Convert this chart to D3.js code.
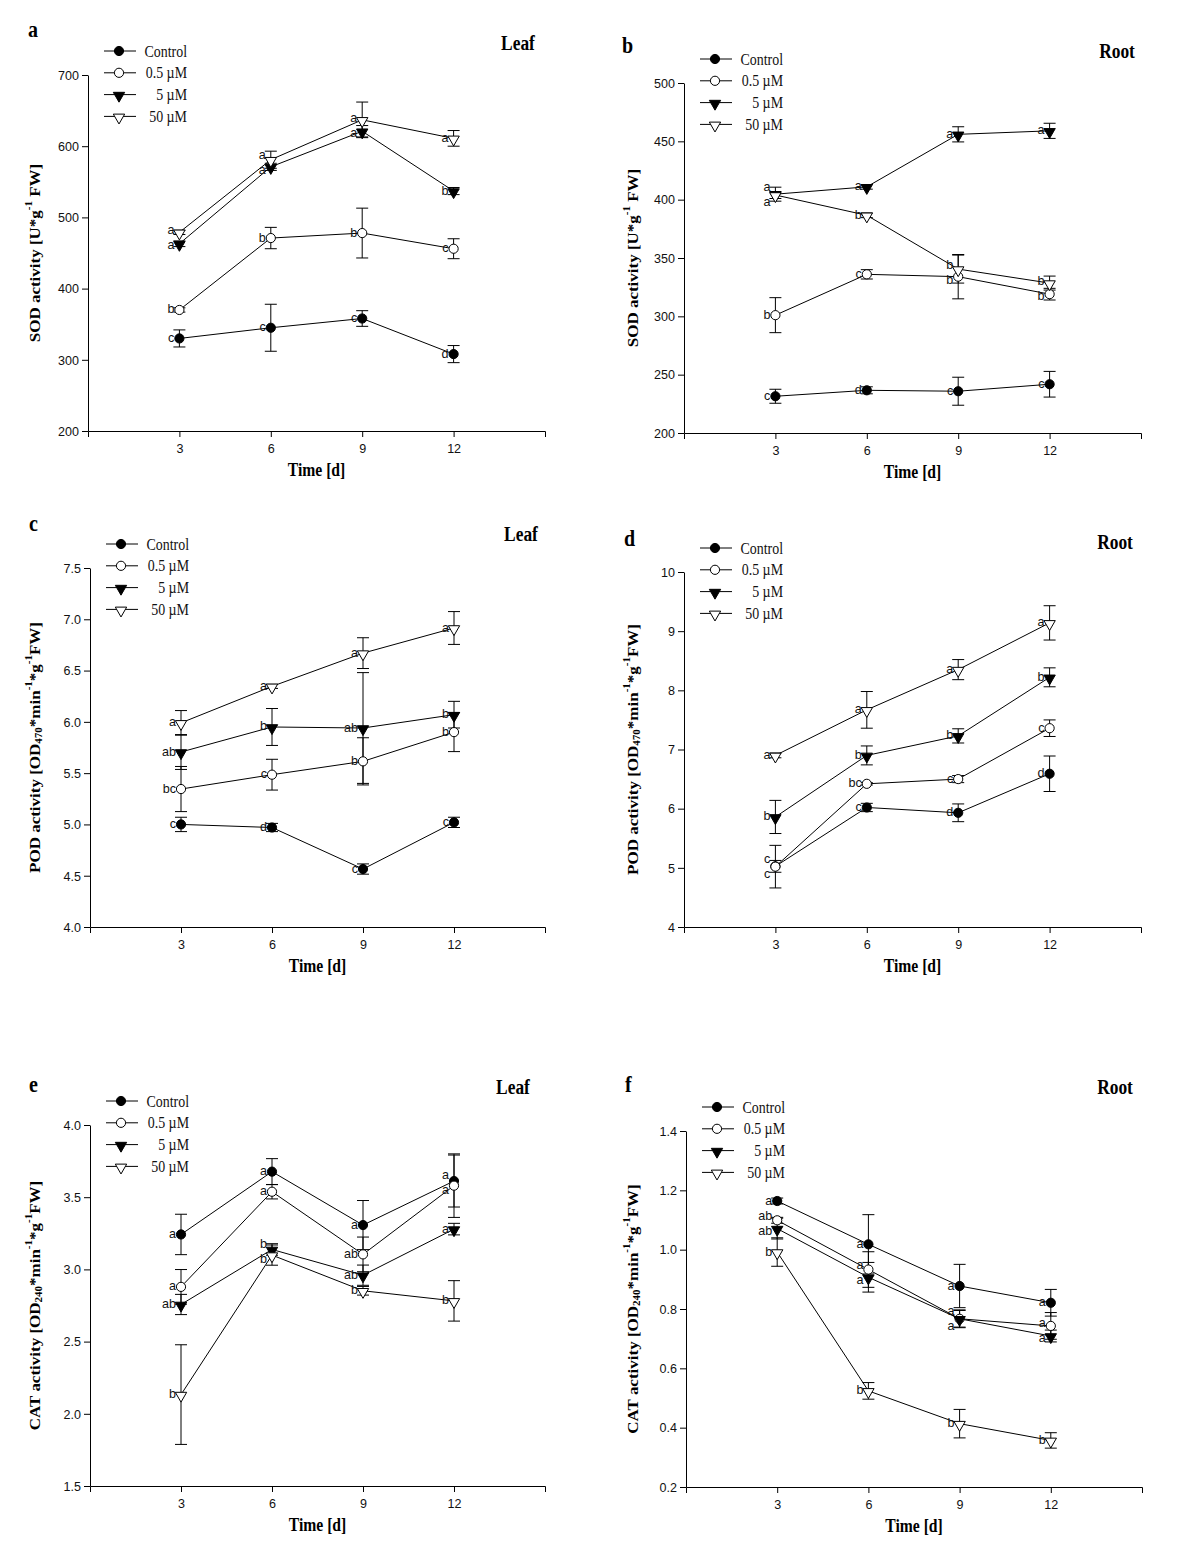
<!DOCTYPE html>
<html><head><meta charset="utf-8">
<script src="https://cdn.jsdelivr.net/npm/d3@7"></script>
<style>
html,body{margin:0;padding:0;background:#fff;}
svg{display:block;}
</style></head>
<body>
<script>
// ---------------- DATA ----------------
const days = [3, 6, 9, 12];
const seriesNames = ["Control", "0.5 \u00b5M", "5 \u00b5M", "50 \u00b5M"];

// SOD – leaf (a)
const sodLeafMean = [[330,345,358,308],[370,471,478,456],[463,571,621,537],[479,581,637,611]];
const sodLeafErr  = [[12,33,11,12],[3,15,35,14],[4,5,8,5],[3,12,25,11]];
const sodLeafSig  = [["c","c","c","d"],["b","b","b","c"],["a","a","a","b"],["a","a","a","a"]];
// SOD – root (b)
const sodRootMean = [[231.5,236.6,235.8,241.8],[301,336,334,319],[404.7,411,456,459],[404,386.6,340.5,328.5]];
const sodRootErr  = [[6,3,12,11],[15,4,19,5],[6,2,6.5,6.5],[3,2,12,6]];
const sodRootSig  = [["c","d","c","c"],["b","c","b","b"],["a","a","a","a"],["a","b","b","b"]];
// POD – leaf (c)
const podLeafMean = [[5.00,4.97,4.565,5.02],[5.345,5.485,5.615,5.90],[5.706,5.95,5.94,6.07],[5.99,6.346,6.67,6.915]];
const podLeafErr  = [[0.07,0.04,0.05,0.05],[0.22,0.15,0.23,0.19],[0.17,0.18,0.54,0.13],[0.12,0.02,0.15,0.16]];
const podLeafSig  = [["c","d","c","c"],["bc","c","b","b"],["ab","b","ab","b"],["a","a","a","a"]];
// POD – root (d)
const podRootMean = [[5.025,6.02,5.93,6.59],[5.02,6.42,6.50,7.36],[5.86,6.90,7.23,8.22],[6.90,7.67,8.35,9.14]];
const podRootErr  = [[0.1,0.07,0.15,0.3],[0.36,0.02,0.06,0.14],[0.28,0.16,0.12,0.16],[0.04,0.31,0.17,0.29]];
const podRootSig  = [["c","c","d","d"],["c","bc","c","c"],["b","b","b","b"],["a","a","a","a"]];
// CAT – leaf (e)
const catLeafMean = [[3.242,3.677,3.307,3.612],[2.879,3.538,3.104,3.58],[2.757,3.138,2.96,3.279],[2.133,3.099,2.852,2.782]];
const catLeafErr  = [[0.14,0.09,0.17,0.18],[0.12,0.05,0.12,0.22],[0.07,0.04,0.07,0.04],[0.345,0.07,0.03,0.14]];
const catLeafSig  = [["a","a","a","a"],["a","a","ab","a"],["ab","b","ab","a"],["b","b","b","b"]];
// CAT – root (f)
const catRootMean = [[1.164,1.018,0.8775,0.821],[1.099,0.933,0.767,0.743],[1.071,0.907,0.767,0.709],[0.992,0.524,0.4135,0.357]];
const catRootErr  = [[0.01,0.1,0.073,0.045],[0.01,0.06,0.03,0.045],[0.035,0.05,0.028,0.02],[0.048,0.028,0.048,0.026]];
const catRootSig  = [["a","a","a","a"],["ab","a","a","a"],["ab","a","a","a"],["b","b","b","b"]];

const panelLetters = ["a","b","c","d","e","f"];
const tissues = ["Leaf","Root","Leaf","Root","Leaf","Root"];
const sodTicks = [200,300,400,500,600,700];
const sodRootTicks = [200,250,300,350,400,450,500];
const podLeafTicks = [4.0,4.5,5.0,5.5,6.0,6.5,7.0,7.5];
const podRootTicks = [4,5,6,7,8,9,10];
const catLeafTicks = [1.5,2.0,2.5,3.0,3.5,4.0];
const catRootTicks = [0.2,0.4,0.6,0.8,1.0,1.2,1.4];
const xLabel = "Time [d]";

// y-axis titles as segments: [text, kind] kind: n normal, sup, sub
const sodTitle = [["SOD activity [U*g","n"],["-1","sup"],[" FW]","n"]];
const podTitle = [["POD activity [OD","n"],["470","sub"],["*min","n"],["-1","sup"],["*g","n"],["-1","sup"],["FW]","n"]];
const catTitle = [["CAT activity [OD","n"],["240","sub"],["*min","n"],["-1","sup"],["*g","n"],["-1","sup"],["FW]","n"]];

// ---------------- LAYOUT ----------------
const panels = [
  {mean: sodLeafMean, err: sodLeafErr, sig: sodLeafSig, ticks: sodTicks, fmt: d3.format("d"), title: sodTitle,
   x0: 88, x1: 545, yTop: 75, yBot: 431, letter: [28, 37], tissue: [518, 50], ylab: 36},
  {mean: sodRootMean, err: sodRootErr, sig: sodRootSig, ticks: sodRootTicks, fmt: d3.format("d"), title: sodTitle,
   x0: 684, x1: 1141, yTop: 83, yBot: 433, letter: [622, 53], tissue: [1117, 58], ylab: 634},
  {mean: podLeafMean, err: podLeafErr, sig: podLeafSig, ticks: podLeafTicks, fmt: d3.format(".1f"), title: podTitle,
   x0: 90, x1: 545, yTop: 568, yBot: 927, letter: [29, 531], tissue: [521, 541], ylab: 36},
  {mean: podRootMean, err: podRootErr, sig: podRootSig, ticks: podRootTicks, fmt: d3.format("d"), title: podTitle,
   x0: 684, x1: 1141, yTop: 572, yBot: 927, letter: [624, 546], tissue: [1115, 549], ylab: 634},
  {mean: catLeafMean, err: catLeafErr, sig: catLeafSig, ticks: catLeafTicks, fmt: d3.format(".1f"), title: catTitle,
   x0: 90, x1: 545, yTop: 1125, yBot: 1486, letter: [29, 1092], tissue: [513, 1094], ylab: 36},
  {mean: catRootMean, err: catRootErr, sig: catRootSig, ticks: catRootTicks, fmt: d3.format(".1f"), title: catTitle,
   x0: 686, x1: 1142, yTop: 1131, yBot: 1487, letter: [625, 1092], tissue: [1115, 1094], ylab: 634}
];

const W = 1200, H = 1564;
const SX = 0.87;   // horizontal squeeze of the original figure's serif lettering
const SXS = 0.93;  // squeeze for sans lettering
const LAB_GAP = 15; // minimum vertical distance between significance letters
const svg = d3.select("body").append("svg").attr("width", W).attr("height", H)
  .attr("viewBox", `0 0 ${W} ${H}`);
svg.append("rect").attr("width", W).attr("height", H).attr("fill", "#fff");

const serif = "'Liberation Serif','Times New Roman',serif";
const sans = "'Liberation Sans',Arial,sans-serif";

function txt(g, x, y, s, sx = SX) {
  return g.append("text").attr("transform", `translate(${x},${y}) scale(${sx},1)`).text(s);
}

const triDown = d3.symbol(d3.symbolTriangle).size(56)();

function drawMarker(g, s, x, y) {
  if (s < 2) {
    g.append("circle").attr("cx", x).attr("cy", y).attr("r", 4.6)
      .attr("fill", s === 0 ? "#000" : "#fff").attr("stroke", "#000").attr("stroke-width", 1);
  } else {
    g.append("path").attr("d", triDown)
      .attr("transform", `translate(${x},${y + 1}) rotate(180)`)
      .attr("fill", s === 2 ? "#000" : "#fff").attr("stroke", "#000").attr("stroke-width", 1);
  }
}

function squeezeTicks(a) {
  a.selectAll("text").each(function () {
    const t = d3.select(this);
    const x = +(t.attr("x") || 0);
    t.attr("x", x / SXS).attr("transform", `scale(${SXS},1)`)
      .attr("font-family", sans).attr("font-size", 13.5).attr("fill", "#111");
  });
  a.selectAll("line,path").attr("stroke", "#000");
}

// cluster-based vertical de-overlap: labels sorted by desired y
function spread(labs, gap) {
  let groups = labs.map(l => ({items: [l], want: [l.yy]}));
  const place = gr => {
    const n = gr.items.length;
    const mean = d3.mean(gr.want);
    gr.top = mean - (n - 1) * gap / 2;
  };
  groups.forEach(place);
  let merged = true;
  while (merged) {
    merged = false;
    for (let k = 1; k < groups.length; k++) {
      const a = groups[k - 1], b = groups[k];
      const aBottom = a.top + (a.items.length - 1) * gap;
      if (b.top - aBottom < gap) {
        const m = {items: a.items.concat(b.items), want: a.want.concat(b.want)};
        place(m);
        groups.splice(k - 1, 2, m);
        merged = true;
        break;
      }
    }
  }
  groups.forEach(gr => gr.items.forEach((it, j) => { it.yy = gr.top + j * gap; }));
}

panels.forEach((p, pi) => {
  const x = d3.scaleLinear().domain([0, 15]).range([p.x0, p.x1]);
  const y = d3.scaleLinear().domain([p.ticks[0], p.ticks[p.ticks.length - 1]]).range([p.yBot, p.yTop]);
  const g = svg.append("g");

  // axes
  g.append("g").attr("transform", `translate(${p.x0},0)`)
    .call(d3.axisLeft(y).tickValues(p.ticks).tickFormat(p.fmt).tickSize(6).tickSizeOuter(0).tickPadding(3))
    .call(squeezeTicks);
  g.append("g").attr("transform", `translate(0,${p.yBot})`)
    .call(d3.axisBottom(x).tickValues(days).tickSize(6).tickSizeOuter(6).tickPadding(6))
    .call(squeezeTicks);

  // x title
  txt(g, (p.x0 + p.x1) / 2, p.yBot + 45, xLabel)
    .attr("text-anchor", "middle").attr("font-family", serif).attr("font-weight", "bold")
    .attr("font-size", 18);

  // y title
  const yt = g.append("text")
    .attr("transform", `translate(${p.ylab},${(p.yTop + p.yBot) / 2}) rotate(-90) scale(1,${SX})`)
    .attr("text-anchor", "middle").attr("font-family", serif).attr("font-weight", "bold")
    .attr("font-size", 17).attr("dominant-baseline", "middle");
  let shift = 0;
  p.title.forEach(([t, kind]) => {
    const target = kind === "sup" ? -7 : kind === "sub" ? 5 : 0;
    const ts = yt.append("tspan").attr("dy", target - shift).text(t);
    if (kind !== "n") ts.attr("font-size", 11);
    shift = target;
  });

  // panel letter and tissue
  txt(g, p.letter[0], p.letter[1], panelLetters[pi]).attr("font-family", serif)
    .attr("font-weight", "bold").attr("font-size", 23);
  txt(g, p.tissue[0], p.tissue[1], tissues[pi]).attr("text-anchor", "middle")
    .attr("font-family", serif).attr("font-weight", "bold").attr("font-size", 20);

  // legend
  const lg = g.append("g");
  seriesNames.forEach((name, s) => {
    const ly = p.yTop - 24 + s * 21.8;
    const lx = p.x0 + 16;
    lg.append("line").attr("x1", lx).attr("x2", lx + 32).attr("y1", ly).attr("y2", ly)
      .attr("stroke", "#000").attr("stroke-width", 1);
    drawMarker(lg, s, lx + 15, ly);
    txt(lg, p.x0 + 99, ly + 5.5, name).attr("text-anchor", "end")
      .attr("font-family", serif).attr("font-size", 16).attr("fill", "#111");
  });

  // error bars
  p.mean.forEach((row, s) => {
    row.forEach((v, i) => {
      const e = p.err[s][i];
      const cx = x(days[i]);
      const yt1 = y(v + e), yb1 = y(v - e);
      g.append("line").attr("x1", cx).attr("x2", cx).attr("y1", yt1).attr("y2", yb1).attr("stroke", "#000");
      [yt1, yb1].forEach(yy => g.append("line").attr("x1", cx - 6).attr("x2", cx + 6)
        .attr("y1", yy).attr("y2", yy).attr("stroke", "#000"));
    });
  });

  // lines
  const line = d3.line().x((d, i) => x(days[i])).y(d => y(d));
  p.mean.forEach(row => {
    g.append("path").attr("d", line(row)).attr("fill", "none").attr("stroke", "#000").attr("stroke-width", 1);
  });

  // markers
  p.mean.forEach((row, s) => row.forEach((v, i) => drawMarker(g, s, x(days[i]), y(v))));

  // significance letters
  days.forEach((d, i) => {
    const labs = p.mean.map((row, s) => ({t: p.sig[s][i], yy: y(row[i]) - 1}))
      .sort((a, b) => a.yy - b.yy);
    spread(labs, LAB_GAP);
    labs.forEach(l => txt(g, x(d) - 5, l.yy + 4.5, l.t, 0.97)
      .attr("text-anchor", "end").attr("font-family", sans).attr("font-size", 13)
      .attr("fill", "#111"));
  });
});
</script>
</body></html>
